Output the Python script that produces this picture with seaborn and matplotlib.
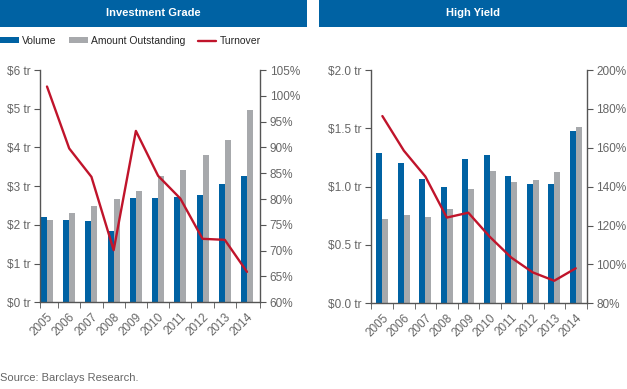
import numpy as np
import pandas as pd
import matplotlib
matplotlib.use("Agg")
import matplotlib.pyplot as plt
from matplotlib.patches import Patch, Rectangle
from matplotlib.lines import Line2D
import seaborn as sns

# data
years = ["2005", "2006", "2007", "2008", "2009", "2010", "2011", "2012", "2013", "2014"]

ig_volume = [2.20, 2.12, 2.10, 1.85, 2.69, 2.69, 2.73, 2.78, 3.05, 3.26]
ig_outstanding = [2.13, 2.30, 2.50, 2.66, 2.88, 3.26, 3.43, 3.80, 4.19, 4.97]
ig_turnover = [101.8, 89.8, 84.3, 70.1, 93.2, 84.5, 80.1, 72.3, 72.1, 65.9]

hy_volume = [1.29, 1.20, 1.065, 1.00, 1.24, 1.27, 1.09, 1.02, 1.02, 1.48]
hy_outstanding = [0.72, 0.76, 0.74, 0.81, 0.98, 1.13, 1.04, 1.055, 1.125, 1.51]
hy_turnover = [176.3, 158.5, 145.2, 124.1, 126.6, 114.2, 103.5, 95.9, 91.6, 98.0]

BLUE = "#0062a3"
GRAY = "#a7a9ac"
RED = "#c0142b"
TXT = "#666666"
SPINE = "#555555"

sns.set_style("ticks")
plt.rcParams["font.family"] = ["Liberation Sans", "DejaVu Sans"]

W, H = 627, 389
fig = plt.figure(figsize=(W / 100, H / 100), dpi=100)


def long_frame(vol, out):
    return pd.DataFrame({
        "year": years * 2,
        "value": vol + out,
        "series": ["Volume"] * len(years) + ["Amount Outstanding"] * len(years),
    })


def panel(rect, vol, out, turn, width, xlim, yticks, ylabels, rticks):
    ax = fig.add_axes(rect)
    sns.barplot(data=long_frame(vol, out), x="year", y="value", hue="series",
                palette={"Volume": BLUE, "Amount Outstanding": GRAY},
                width=width, saturation=1, legend=False, linewidth=0, ax=ax)
    ax.set_xlim(*xlim)
    ax.set_ylim(yticks[0], yticks[-1])
    ax.set_yticks(yticks)
    ax.set_yticklabels(ylabels)
    ax.set_xlabel("")
    ax.set_ylabel("")
    ax.set_xticks(range(len(years)))
    ax.set_xticklabels(years, rotation=45, ha="right", rotation_mode="anchor")
    ax.tick_params(axis="x", length=0, pad=6)
    ax.set_xticks(list(np.arange(0.5, len(years) - 1, 1)) + [xlim[0], xlim[1]], minor=True)
    ax.tick_params(axis="x", which="minor", length=4, color=SPINE, direction="out")

    ax2 = ax.twinx()
    sns.lineplot(x=np.arange(len(years)), y=turn, ax=ax2, color=RED, lw=1.7)
    ax2.set_ylim(rticks[0], rticks[-1])
    ax2.set_yticks(rticks)
    ax2.set_yticklabels([f"{t}%" for t in rticks])

    for a in (ax, ax2):
        a.spines["top"].set_visible(False)
        for s in ("left", "right", "bottom"):
            a.spines[s].set_color(SPINE)
            a.spines[s].set_linewidth(1.0)
        a.tick_params(axis="y", length=4, color=SPINE, labelsize=8.5, labelcolor=TXT, pad=3)
        a.tick_params(axis="x", labelsize=8.5, labelcolor=TXT)
    ax.spines["right"].set_visible(False)
    ax2.spines["left"].set_visible(False)
    ax2.spines["bottom"].set_visible(False)
    return ax, ax2


def fx(px):
    return px / W


def fy(py):
    return 1 - py / H


panel([fx(40), fy(302.3), fx(220), fy(70) - fy(302.3)],
      ig_volume, ig_outstanding, ig_turnover, 0.54, (-0.315, 9.585),
      [0, 1, 2, 3, 4, 5, 6], [f"${v} tr" for v in range(7)],
      list(range(60, 106, 5)))

panel([fx(371), fy(303.3), fx(215.7), fy(70) - fy(303.3)],
      hy_volume, hy_outstanding, hy_turnover, 0.56, (-0.53, 9.51),
      [0, 0.5, 1.0, 1.5, 2.0], [f"${v:.1f} tr" for v in (0, 0.5, 1.0, 1.5, 2.0)],
      list(range(80, 201, 20)))

# title bars
for x0, x1, label in ((0, 307, "Investment Grade"), (319, 627, "High Yield")):
    fig.add_artist(Rectangle((fx(x0), fy(27)), fx(x1 - x0), 27 / H,
                             transform=fig.transFigure, color=BLUE, lw=0))
    fig.text(fx((x0 + x1) / 2), fy(13.5), label, ha="center", va="center",
             color="white", fontsize=8, fontweight="bold")

handles = [Patch(color=BLUE, lw=0), Patch(color=GRAY, lw=0), Line2D([], [], color=RED, lw=1.7)]
fig.legend(handles, ["Volume", "Amount Outstanding", "Turnover"],
           loc="center left", bbox_to_anchor=(0, fy(41)), ncol=3, frameon=False,
           fontsize=7.5, handlelength=1.8, handleheight=0.45, handletextpad=0.3,
           columnspacing=1.2, borderaxespad=0, borderpad=0)

fig.text(0, fy(378), "Source: Barclays Research.", ha="left", va="center",
         fontsize=8, color=TXT)

fig.savefig("out.png", dpi=100)
